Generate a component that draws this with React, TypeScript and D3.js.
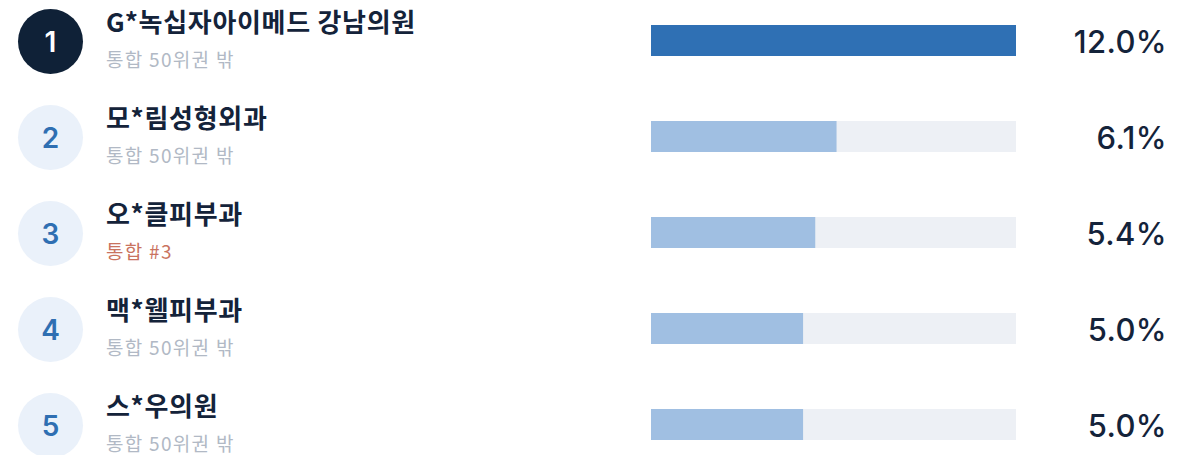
import React from "react";
import * as d3 from "d3";

const ranks = [1, 2, 3, 4, 5];
const names = ["G*녹십자아이메드 강남의원", "모*림성형외과", "오*클피부과", "맥*웰피부과", "스*우의원"];
const subLabels = ["통합 50위권 밖", "통합 50위권 밖", "통합 #3", "통합 50위권 밖", "통합 50위권 밖"];
const highlightSub = [false, false, true, false, false];
const shares = [12.0, 6.1, 5.4, 5.0, 5.0];

const W = 1194;
const H = 455;
const KR = "'Noto Sans CJK KR', 'Noto Sans', sans-serif";
const NUM = "Inter, 'Noto Sans', sans-serif";

export default function App() {
  const y = d3
    .scaleBand<number>()
    .domain(d3.range(ranks.length))
    .range([-7.5, -7.5 + 96 * ranks.length])
    .padding(0);
  const x = d3.scaleLinear().domain([0, d3.max(shares) as number]).range([651, 1016]);
  const barH = 31;

  return (
    <svg
      width={W}
      height={H}
      style={{ position: "absolute", left: 0, top: 0, background: "#fff" }}
    >
      {ranks.map((r, i) => {
        const cy = (y(i) as number) + y.bandwidth() / 2;
        const first = i === 0;
        return (
          <g key={r}>
            <circle cx={50.5} cy={cy + 1} r={32.5} fill={first ? "#0f2137" : "#eaf1fa"} />
            <text
              x={50.5}
              y={cy + 1}
              textAnchor="middle"
              dominantBaseline="central"
              fontFamily={NUM}
              fontWeight={600}
              fontSize={28}
              fill={first ? "#ffffff" : "#2f6fb2"}
            >
              {r}
            </text>
            <text
              x={106}
              y={cy - 20}
              dominantBaseline="central"
              fontFamily={KR}
              fontWeight={700}
              fontSize={26}
              letterSpacing={0.7}
              fill="#14233a"
            >
              {names[i]}
            </text>
            <text
              x={106}
              y={cy + 18}
              dominantBaseline="central"
              fontFamily={KR}
              fontWeight={400}
              fontSize={19}
              letterSpacing={1.3}
              fill={highlightSub[i] ? "#c9735f" : "#b1b9c5"}
            >
              {subLabels[i]}
            </text>
            <rect x={x(0)} y={cy - barH / 2} width={x(d3.max(shares) as number) - x(0)} height={barH} fill="#edf0f5" />
            <rect
              x={x(0)}
              y={cy - barH / 2}
              width={x(shares[i]) - x(0)}
              height={barH}
              fill={first ? "#2f70b4" : "#a0bfe2"}
            />
            <text
              x={1167}
              y={cy + 1}
              textAnchor="end"
              dominantBaseline="central"
              fontFamily={NUM}
              fontWeight={500}
              fontSize={31}
              letterSpacing={0.4}
              fill="#14233a"
            >
              {shares[i].toFixed(1)}%
            </text>
          </g>
        );
      })}
    </svg>
  );
}
